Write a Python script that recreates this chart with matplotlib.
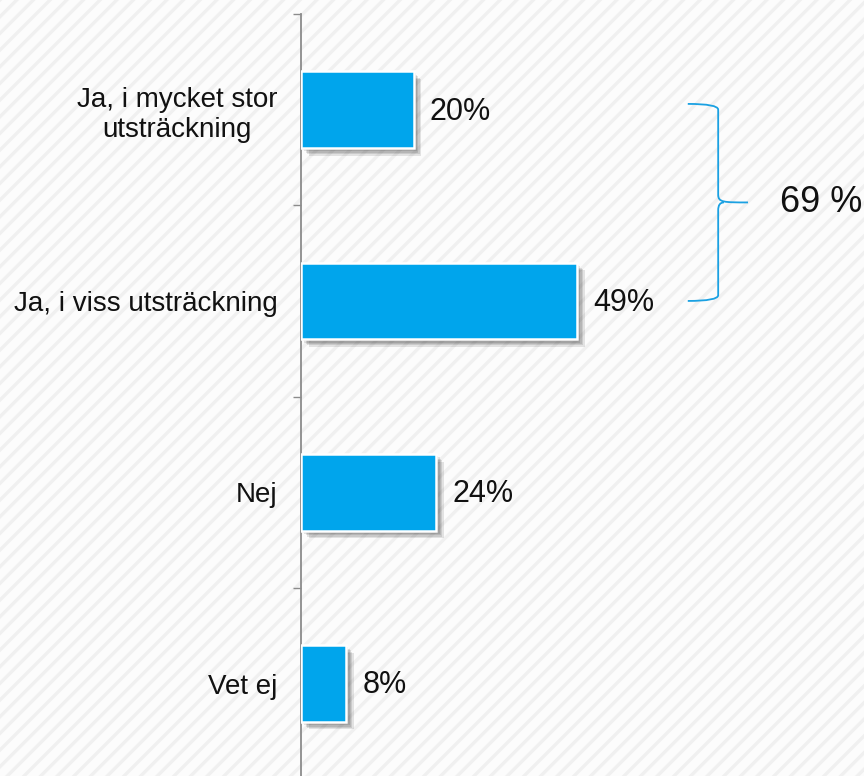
import matplotlib
matplotlib.use("Agg")
import matplotlib.pyplot as plt
import matplotlib.patheffects as pe
from matplotlib.patches import Rectangle, PathPatch
from matplotlib.path import Path

plt.rcParams['font.family'] = ['Liberation Sans', 'DejaVu Sans']
plt.rcParams['hatch.linewidth'] = 2.4

categories = ["Ja, i mycket stor\nutsträckning", "Ja, i viss utsträckning", "Nej", "Vet ej"]
values = [20, 49, 24, 8]
value_labels = ["20%", "49%", "24%", "8%"]
bracket_label = "69 %"

bar_color = "#00A5EC"
brace_color = "#1BA1E2"
axis_color = "#8C8C8C"

W, H = 864, 776
fig = plt.figure(figsize=(W / 100, H / 100), dpi=100)
fig.patch.set_facecolor("white")

# striped background
bg = fig.add_axes([0, 0, 1, 1])
bg.set_axis_off()
bg.add_patch(Rectangle((0, 0), 1, 1, transform=bg.transAxes, facecolor="#FCFCFC",
                       edgecolor="#F0F0F0", hatch="//", lw=0))

# main axes: left spine at x=301px, top at y=14px, slot height ~191.3px
left_px, top_px, slot_px = 301, 14, 191.3
n = len(categories)
bottom_px = top_px + n * slot_px
ax = fig.add_axes([left_px / W, (H - bottom_px) / H, (W - left_px) / W, n * slot_px / H])
ax.set_facecolor("none")
ax.set_xlim(0, 100)
ax.set_ylim(n - 0.5, -0.5)

shadow = [pe.SimplePatchShadow(offset=(o, -o), shadow_rgbFace="k", alpha=0.1)
          for o in (1.5, 2.5, 3.5, 4.5, 5.5)] + [pe.Normal()]
ypos = list(range(n))
bars = ax.barh(ypos, values, height=0.4, color=bar_color, edgecolor="white",
               linewidth=1.8, zorder=3)
for b in bars:
    b.set_path_effects(shadow)

for y, v, lab in zip(ypos, values, value_labels):
    ax.text(v + 2.9, y + 0.01, lab, va="center", ha="left", fontsize=22,
            color="#111111", zorder=4)

# axes styling
for s in ("top", "right", "bottom"):
    ax.spines[s].set_visible(False)
ax.spines["left"].set_color(axis_color)
ax.spines["left"].set_linewidth(1.3)
ax.set_xticks([])
ax.set_yticks(ypos)
ax.set_yticklabels(categories, fontsize=20, color="#111111")
for t in ax.get_yticklabels():
    t.set_multialignment("center")
ax.tick_params(axis="y", which="major", length=0, pad=17)
ax.set_yticks([i - 0.5 for i in range(n + 1)], minor=True)
ax.tick_params(axis="y", which="minor", length=5.8, width=1.0, color=axis_color, direction="out")

# curly brace spanning the first two categories
x0, x1, xt = 68.7, 74.1, 79.4
yt, yb, ym = -0.03, 1.0, 0.485
verts = [(x0, yt), (x1, yt), (x1, yt + 0.03),
         (x1, ym - 0.04),
         (x1, ym), (x1 + 1.0, ym), (xt, ym),
         (x1 + 1.0, ym), (x1, ym), (x1, ym + 0.04),
         (x1, yb - 0.03),
         (x1, yb), (x0, yb)]
codes = [Path.MOVETO, Path.CURVE3, Path.CURVE3,
         Path.LINETO,
         Path.CURVE4, Path.CURVE4, Path.CURVE4,
         Path.MOVETO, Path.CURVE3, Path.CURVE3,
         Path.LINETO,
         Path.CURVE3, Path.CURVE3]
ax.add_patch(PathPatch(Path(verts, codes), facecolor="none", edgecolor=brace_color,
                       lw=1.3, clip_on=False, zorder=4))
ax.text(85.1, ym, bracket_label, va="center", ha="left", fontsize=26,
        color="#111111", clip_on=False)

fig.savefig("out.png", dpi=100)
